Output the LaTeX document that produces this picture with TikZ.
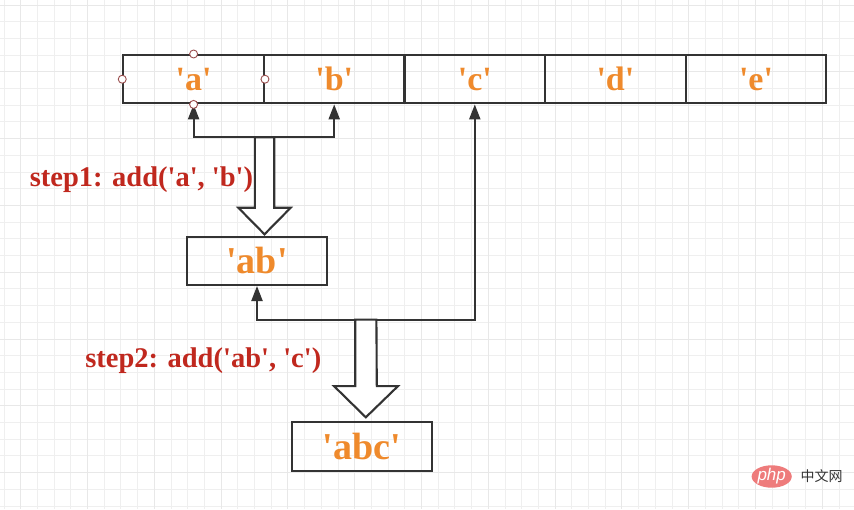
\documentclass[tikz,border=0pt]{standalone}
\usepackage{fontspec}
\setmainfont{Liberation Serif}
\newfontfamily\cjkfont{Noto Sans CJK SC}
\newfontfamily\wmfont{Liberation Sans}
\usetikzlibrary{arrows.meta,calc,shapes.geometric}
\newcommand{\sq}{\textquotesingle}
\definecolor{lineg}{HTML}{333333}
\definecolor{gridc}{HTML}{EFEFEF}
\definecolor{gridm}{HTML}{E8E8E8}
\definecolor{orangec}{HTML}{EF8A2C}
\definecolor{redc}{HTML}{C0281E}
\definecolor{handlec}{HTML}{9A4E4E}
\definecolor{phpred}{HTML}{EE7B7B}
\tikzset{
  cell/.style={draw=lineg, line width=2.1pt, minimum width=140.6pt, minimum height=48.3pt, inner sep=0pt,
    text=orangec, font=\fontsize{34}{38}\selectfont\bfseries},
  resbox/.style={draw=lineg, line width=2.1pt, minimum width=140.6pt, inner sep=0pt,
    text=orangec, font=\fontsize{38}{40}\selectfont\bfseries},
  conn/.style={draw=lineg, line width=2.1pt, -{Triangle[width=11pt,length=15pt]}},
  hollow/.style={draw=lineg, line width=2.1pt, fill=white, line join=miter},
  steplabel/.style={text=redc, font=\fontsize{28.5}{32}\selectfont\bfseries, inner sep=0pt},
  handle/.style={circle, draw=handlec, fill=white, line width=0.9pt, minimum size=8pt, inner sep=0pt},
}
\begin{document}
\begin{tikzpicture}[x=1pt,y=-1pt]
\useasboundingbox (0,0) rectangle (854,509);
\fill[white] (0,0) rectangle (854,509);
% grid
\foreach \k in {0,...,51} {\draw[gridc, line width=1pt] ({4+16.7*\k},0) -- ({4+16.7*\k},509);}
\foreach \k in {0,...,30} {\draw[gridc, line width=1pt] (0,{5+16.7*\k}) -- (854,{5+16.7*\k});}
\foreach \k in {0,...,12} {\draw[gridm, line width=1pt] ({20.7+66.8*\k},0) -- ({20.7+66.8*\k},509);}
\foreach \k in {0,...,7} {\draw[gridm, line width=1pt] (0,{5+66.8*\k}) -- (854,{5+66.8*\k});}

% top row
\node[cell] (ca) at (193.6,79.2) {\sq a\sq};
\node[cell] (cb) at (334.2,79.2) {\sq b\sq};
\node[cell] (cc) at (474.8,79.2) {\sq c\sq};
\node[cell] (cd) at (615.4,79.2) {\sq d\sq};
\node[cell] (ce) at (756.0,79.2) {\sq e\sq};

% result boxes
\node[resbox, minimum height=48.3pt] (ab) at (257,260.8) {\sq ab\sq};
\node[resbox, minimum height=49pt] (abc) at (362,446.2) {\sq abc\sq};

% junctions
\coordinate (j1) at (264.5,137.3);
\coordinate (j2) at (365.8,319.6);

% connectors
\draw[conn] (j1) -| (ca.south);
\draw[conn] (j1) -| (cb.south);
\draw[conn] (j2) -| (ab.south);
\draw[conn] (j2) -| (cc.south);

% hollow arrows
\draw[hollow] ($(j1)+(-9.7,0)$) -- ++(0,70.4) -- ++(-16.5,0) -- ($(j1)+(0,97)$) -- ($(j1)+(26.2,70.4)$) -- ++(-16.5,0) -- ($(j1)+(9.7,0)$) -- cycle;
\draw[hollow] ($(j2)+(-10.6,0)$) -- ++(0,66.5) -- ++(-21.2,0) -- ($(j2)+(0,97.7)$) -- ($(j2)+(32.2,66.5)$) -- ++(-21.2,0) -- ($(j2)+(10.6,0)$) -- cycle;

% handles on cell a
\node[handle] (h1) at (ca.north) {};
\node[handle] (h2) at (ca.west) {};
\node[handle] (h3) at (ca.east) {};
\node[handle] (h4) at (ca.south) {};

% labels
\node[steplabel] (s1) at (141.5,180) {step1: add(\sq a\sq, \sq b\sq)};
\node[steplabel] (s2) at (203.3,361) {step2: add(\sq ab\sq, \sq c\sq)};

% watermark
\node[ellipse, fill=phpred, minimum width=36pt, minimum height=21pt, inner sep=0pt, text=white,
  font=\wmfont\itshape\fontsize{17}{17}\selectfont] (php) at (771.7,476.5) {php};
\node[text=lineg, font=\cjkfont\fontsize{14}{14}\selectfont, inner sep=0pt] (zw) at (821.7,476.5) {中文网};
\end{tikzpicture}
\end{document}
